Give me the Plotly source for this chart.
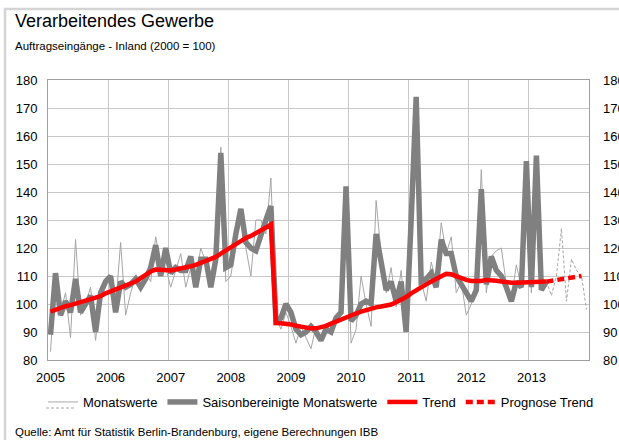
import plotly.graph_objects as go

# month index 0 = Jan 2005 ... 107 = Dec 2013
year_labels = ["2005", "2006", "2007", "2008", "2009", "2010", "2011", "2012", "2013"]

monatswerte = [
    83, 110, 97, 104, 88, 123, 96, 100, 106, 87, 103, 107,
    110, 99, 122, 96, 104, 110, 106, 111, 108, 124, 114, 113,
    106, 112, 118, 106, 113, 109, 120, 115, 108, 114, 156, 108,
    110, 122, 133, 120, 110, 130, 130, 125, 145, 95, 91, 97,
    92, 86, 92, 88, 84, 92, 88, 93, 90, 95, 97, 140,
    86, 91, 110, 100, 92, 137, 118, 104, 113, 99, 112, 92,
    128, 173, 108, 101, 115, 108, 129, 118, 124, 104, 108, 96,
    100, 104, 148, 104, 117, 119, 120, 107, 102, 114, 106, 148,
    104, 150, 106, 108,
]
prognose_monatswerte = [108, 103, 110, 127, 101, 116, 112, 110, 98]

saisonbereinigt = [
    89, 111, 96, 101, 97, 109, 97, 100, 103, 90, 104, 108,
    110, 97, 108, 106, 107, 109, 106, 109, 113, 121, 110, 120,
    111, 113, 112, 112, 117, 106, 116, 116, 106, 116, 154, 113,
    114, 125, 134, 122, 120, 119, 125, 130, 135, 94, 95, 100,
    97, 91, 89, 90, 92, 90, 87, 91, 90, 95, 97, 142,
    94, 96, 100, 101, 100, 125, 115, 105, 108, 101, 108, 90,
    130, 174, 108, 109, 111, 106, 123, 118, 118, 110, 107, 104,
    101, 105, 141, 107, 117, 112, 110, 106, 101, 108, 106, 151,
    106, 153, 105, 108,
]

trend = [
    97.3, 98.0, 98.7, 99.2, 99.6, 100.1, 100.5, 101.0, 101.5, 102.0, 102.8, 103.8,
    104.5, 105.0, 105.8, 106.5, 107.0, 108.0, 109.2, 110.5, 111.6, 112.3, 112.2, 112.0,
    112.0, 112.3, 112.6, 113.0, 113.5, 114.0, 114.6, 115.2, 115.8, 116.8, 118.0, 119.2,
    120.3, 121.5, 122.7, 123.6, 124.3, 125.2, 126.3, 127.3, 128.4, 93.2, 93.1, 93.0,
    92.7, 92.2, 91.8, 91.5, 91.3, 91.3, 91.6, 92.2, 93.0, 93.8, 94.5, 95.3,
    95.9, 96.6, 97.3, 97.9, 98.4, 98.8, 99.1, 99.4, 99.8, 100.6, 101.5, 102.5,
    103.8, 105.0, 106.0, 107.0, 108.0, 109.0, 110.0, 110.8, 110.6, 109.8, 109.2, 108.6,
    108.2, 108.1, 108.2, 108.6, 108.6, 108.3, 108.0, 107.7, 107.6, 107.6, 107.6, 107.6,
    107.6, 107.7, 107.8, 108.0,
]
prognose_trend = [108.0, 108.3, 108.6, 109.0, 109.3, 109.6, 109.8, 110.0]

y_ticks = [80, 90, 100, 110, 120, 130, 140, 150, 160, 170, 180]

FONT = "Liberation Sans"
L, R, T, B = 48, 30, 80, 80
W, H = 619, 440
PW, PH = W - L - R, H - T - B


def px(x):
    return (x - L) / PW


def py(y):
    return (H - B - y) / PH


n_actual = len(monatswerte)
x_actual = list(range(n_actual))
x_prog_m = list(range(n_actual - 1, n_actual - 1 + len(prognose_monatswerte)))
x_prog_t = list(range(n_actual - 1, n_actual - 1 + len(prognose_trend)))

fig = go.Figure()
fig.add_trace(go.Scatter(
    x=x_actual, y=monatswerte, name="Monatswerte", mode="lines",
    line={"color": "#a6a6a6", "width": 1},
))
fig.add_trace(go.Scatter(
    x=x_prog_m, y=prognose_monatswerte, name="Prognose Monatswerte", mode="lines",
    line={"color": "#a6a6a6", "width": 1, "dash": "3px,2px"}, showlegend=False,
))
fig.add_trace(go.Scatter(
    x=x_actual, y=saisonbereinigt, name="Saisonbereinigte Monatswerte", mode="lines",
    line={"color": "#808080", "width": 5.5},
))
fig.add_trace(go.Scatter(
    x=x_actual, y=trend, name="Trend", mode="lines",
    line={"color": "#ff0000", "width": 4.5},
))
fig.add_trace(go.Scatter(
    x=x_prog_t, y=prognose_trend, name="Prognose Trend", mode="lines",
    line={"color": "#ff0000", "width": 4.5, "dash": "7px,4px"},
))
fig.add_trace(go.Scatter(
    x=[0], y=[None], yaxis="y2", showlegend=False, hoverinfo="skip",
))

year_grid = [-0.5 + 12 * k for k in range(10)]
year_pos = [12 * k for k in range(len(year_labels))]

fig.update_layout(
    width=W, height=H,
    margin={"l": L, "r": R, "t": T, "b": B, "autoexpand": False},
    paper_bgcolor="white", plot_bgcolor="white",
    font={"family": FONT, "color": "#000000", "size": 13},
    showlegend=True,
    legend={
        "orientation": "h", "x": px(43), "y": py(387), "xanchor": "left", "yanchor": "top",
        "font": {"size": 13, "family": FONT}, "tracegroupgap": 0,
        "bgcolor": "rgba(0,0,0,0)",
    },
    xaxis={
        "range": [-0.5, 107.5], "tickvals": year_pos, "ticktext": year_labels,
        "showgrid": False, "zeroline": False, "ticks": "", "automargin": False,
        "showline": True, "linecolor": "#a0a0a0", "mirror": True,
        "tickfont": {"size": 13}, "ticklabelstandoff": 5,
        "minor": {"tickvals": year_grid, "showgrid": True, "gridcolor": "#c8c8c8", "gridwidth": 1},
    },
    yaxis={
        "range": [80, 180], "tickvals": y_ticks, "showgrid": True, "gridcolor": "#c8c8c8",
        "zeroline": False, "showline": True, "linecolor": "#a0a0a0", "mirror": True,
        "ticks": "", "ticklabelstandoff": 7, "tickfont": {"size": 13}, "automargin": False,
    },
    yaxis2={
        "range": [80, 180], "tickvals": y_ticks, "overlaying": "y", "side": "right",
        "showgrid": False, "zeroline": False, "ticks": "", "ticklabelstandoff": 13,
        "tickfont": {"size": 13}, "automargin": False,
    },
    shapes=[
        {"type": "rect", "xref": "paper", "yref": "paper",
         "x0": px(5), "x1": px(640), "y0": py(460), "y1": py(9),
         "line": {"color": "#d4d4d4", "width": 2.5}, "layer": "below"},
        {"type": "line", "xref": "paper", "yref": "paper",
         "x0": px(46), "x1": px(76), "y0": py(408), "y1": py(408),
         "line": {"color": "#a6a6a6", "width": 1, "dash": "3px,2px"}},
    ],
    annotations=[
        {"text": "Verarbeitendes Gewerbe", "xref": "paper", "yref": "paper",
         "x": px(13), "y": py(21), "xanchor": "left", "yanchor": "middle",
         "showarrow": False, "font": {"size": 18}},
        {"text": "Auftragseingänge - Inland (2000 = 100)", "xref": "paper", "yref": "paper",
         "x": px(13), "y": py(46), "xanchor": "left", "yanchor": "middle",
         "showarrow": False, "font": {"size": 11.5}},
        {"text": "Quelle: Amt für Statistik Berlin-Brandenburg, eigene Berechnungen IBB",
         "xref": "paper", "yref": "paper",
         "x": px(13), "y": py(432), "xanchor": "left", "yanchor": "middle",
         "showarrow": False, "font": {"size": 11.5}},
    ],
)

fig.write_html(
    "out.html",
    config={"displayModeBar": False},
    post_script="document.body.style.margin='0px';",
)
